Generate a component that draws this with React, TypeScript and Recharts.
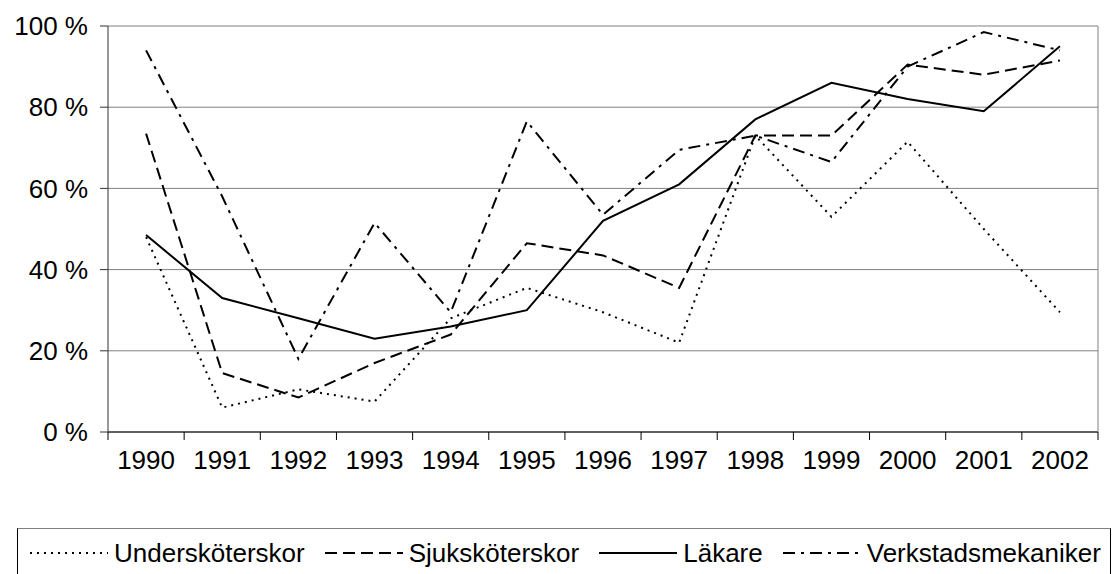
import {
  CartesianGrid,
  Line,
  LineChart,
  XAxis,
  YAxis,
} from "recharts";

const years = [
  "1990", "1991", "1992", "1993", "1994", "1995", "1996",
  "1997", "1998", "1999", "2000", "2001", "2002",
];
const underskoterskor = [48, 6, 10.5, 7.5, 28, 35.5, 29.5, 22, 73, 53, 71.5, 50, 29.5];
const sjukskoterskor = [73.5, 14.5, 8.5, 17, 24, 46.5, 43.5, 35.5, 73, 73, 90.5, 88, 91.5];
const lakare = [48.5, 33, 28, 23, 26, 30, 52, 61, 77, 86, 82, 79, 95];
const verkstadsmekaniker = [94, 58, 18, 51.5, 29.5, 76.5, 53.5, 69.5, 73, 66.5, 90, 98.5, 94];
const yTicks = [0, 20, 40, 60, 80, 100];

const series = [
  { key: "u", name: "Undersköterskor", dash: "2 5" },
  { key: "s", name: "Sjuksköterskor", dash: "12 6" },
  { key: "l", name: "Läkare", dash: undefined },
  { key: "v", name: "Verkstadsmekaniker", dash: "12 6 3 6" },
];

const data = years.map((year, i) => ({
  year,
  u: underskoterskor[i],
  s: sjukskoterskor[i],
  l: lakare[i],
  v: verkstadsmekaniker[i],
}));

const FONT = "'Liberation Sans', Arial, sans-serif";
const W = 1118;
const H = 574;
const LEFT = 108;
const RIGHT = 1098;
const BAND = (RIGHT - LEFT) / years.length;

const YearTick = (props: any) => {
  const { x, y, index, payload } = props;
  const last = index === years.length - 1;
  return (
    <g>
      <line x1={x - BAND / 2} x2={x - BAND / 2} y1={y} y2={y + 8} stroke="#000" />
      {last && <line x1={x + BAND / 2} x2={x + BAND / 2} y1={y} y2={y + 8} stroke="#000" />}
      <text x={x} y={y + 37} textAnchor="middle" fontSize={26} fontFamily={FONT} fill="#000">
        {payload.value}
      </text>
    </g>
  );
};

const Sample = ({ dash }: { dash?: string }) => (
  <svg width={78} height={10} style={{ display: "block" }}>
    <line x1={0} x2={78} y1={5} y2={5} stroke="#000" strokeWidth={2} strokeDasharray={dash} />
  </svg>
);

const App = () => {
  return (
    <div style={{ position: "absolute", top: 0, left: 0, width: W, height: H, background: "#fff" }}>
      <LineChart
        width={W}
        height={H}
        data={data}
        margin={{ top: 26, right: 0, left: 0, bottom: 82 }}
      >
        <CartesianGrid vertical={false} stroke="#808080" />
        <XAxis
          dataKey="year"
          interval={0}
          height={60}
          tickSize={0}
          tickMargin={0}
          padding={{ left: BAND / 2, right: BAND / 2 }}
          tick={<YearTick />}
          axisLine={{ stroke: "#000" }}
        />
        <YAxis
          domain={[0, 100]}
          ticks={yTicks}
          width={LEFT}
          tickSize={8}
          tickMargin={12}
          tickFormatter={(v) => `${v} %`}
          tick={{ fontSize: 26, fontFamily: FONT, fill: "#000" }}
          axisLine={{ stroke: "#333" }}
          tickLine={{ stroke: "#333" }}
        />
        <YAxis
          yAxisId="r"
          orientation="right"
          domain={[0, 100]}
          width={W - RIGHT}
          tick={false}
          tickLine={false}
          axisLine={{ stroke: "#808080" }}
        />
        {series.map((s) => (
          <Line
            key={s.key}
            type="linear"
            dataKey={s.key}
            name={s.name}
            stroke="#000"
            strokeWidth={2}
            strokeDasharray={s.dash}
            dot={false}
            activeDot={false}
            isAnimationActive={false}
          />
        ))}
      </LineChart>
      <div
        style={{
          position: "absolute",
          left: 17,
          top: 528,
          width: 1094,
          height: 60,
          boxSizing: "border-box",
          border: "1px solid #000",
          borderTopColor: "#808080",
          display: "flex",
          alignItems: "center",
          paddingLeft: 12,
          paddingBottom: 10,
          fontFamily: FONT,
          fontSize: 26,
          color: "#000",
        }}
      >
        {series.map((s) => (
          <div key={s.key} style={{ display: "flex", alignItems: "center", marginRight: 20 }}>
            <Sample dash={s.dash} />
            <span style={{ marginLeft: 6 }}>{s.name}</span>
          </div>
        ))}
      </div>
    </div>
  );
};

export default App;
